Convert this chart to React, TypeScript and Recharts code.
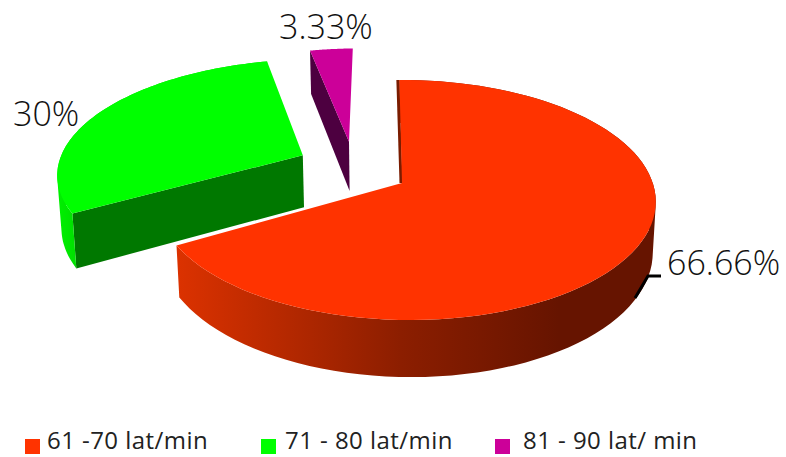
import React from 'react';
import { PieChart, Pie, Legend } from 'recharts';

const categories = ['61 -70 lat/min', '71 - 80 lat/min', '81 - 90 lat/ min'];
const shares = [66.66, 30, 3.33];
const topColors = ['#ff3300', '#00ff00', '#cc0099'];

// per-slice explode vector (in disc units), widening, extrusion and wall paint
const explode = [[0, 0], [-0.415, 0.245], [-0.222, 0.37]];
const widen = [1, 1.04, 1];
const depths = [49, 54, 52];
const radialWalls = ['#661400', '#007800', '#4d0040'];
const labelSpots = [[667, 275], [13, 126], [279, 39]];
const legendSpots = [[25, 47], [261, 285], [495, 523]];

const data = categories.map((name, i) => ({ name, value: shares[i], fill: topColors[i] }));

const TILT = 0.476;
const PERSP_V = 0.1417;
const PERSP_U = -0.015;
const SHEAR = -3;
const CONVERGE = 0.012;
const FONT = '"Open Sans", sans-serif';

type Pt = [number, number];

// disc coordinates -> screen, h = depth of extrusion below the top face
const project = (cx: number, cy: number, r: number, u: number, v: number, h = 0): Pt => {
    const w = 1 + PERSP_V * v + PERSP_U * u;
    let x = cx + (r * u + SHEAR * v) / w;
    const y = cy - (r * TILT * v) / w + h / w;
    if (h) x += (cx - x) * CONVERGE;
    return [x, y];
};

const toPath = (pts: Pt[]) => 'M' + pts.map(p => `${p[0].toFixed(1)},${p[1].toFixed(1)}`).join('L') + 'Z';

// same winding for every quad, otherwise the fold at the silhouette cancels out under nonzero fill
const oriented = (q: Pt[]) => {
    let area = 0;
    q.forEach((p, i) => {
        const n = q[(i + 1) % q.length];
        area += p[0] * n[1] - n[0] * p[1];
    });
    return area < 0 ? [...q].reverse() : q;
};

const Slice3D = (props: any) => {
    const { cx, cy, outerRadius, startAngle, endAngle, index, fill } = props;
    const [ox, oy] = explode[index];
    const h = depths[index];
    const at = (deg: number, rad: number, d = 0) => {
        const t = (deg * Math.PI) / 180;
        return project(cx, cy, outerRadius, ox + rad * widen[index] * Math.cos(t), oy + rad * Math.sin(t), d);
    };
    const steps = 90;
    const arc: number[] = [];
    for (let i = 0; i <= steps; i++) arc.push(startAngle + ((endAngle - startAngle) * i) / steps);

    const top = [at(0, 0), ...arc.map(a => at(a, 1))];
    const outer = arc
        .slice(1)
        .map((a, i) => toPath(oriented([at(arc[i], 1), at(a, 1), at(a, 1, h), at(arc[i], 1, h)])))
        .join('');
    // only the clockwise-leading cut face ever looks towards the viewer
    const cutFace = [at(0, 0), at(startAngle, 1), at(startAngle, 1, h), at(0, 0, h)];
    const startEdge = [at(startAngle, 1), at(0, 0)];

    return (
        <g>
            {index > 0 && <path d={toPath(cutFace)} fill={radialWalls[index]} />}
            {index < 2 && <path d={outer} fill={`url(#wall-${index})`} />}
            {index === 0 && (
                <line
                    x1={startEdge[0][0] - 1.5}
                    y1={startEdge[0][1]}
                    x2={startEdge[1][0] - 1}
                    y2={startEdge[1][1]}
                    stroke="#7a1c00"
                    strokeWidth={3}
                />
            )}
            <path d={toPath(top)} fill={fill} />
        </g>
    );
};

const renderLabel = (props: any) => {
    const { index, value } = props;
    const [x, y] = labelSpots[index];
    return (
        <g key={index}>
            {index === 0 && (
                <path d="M635,298L648,276L661,276" fill="none" stroke="#000" strokeWidth={3} />
            )}
            <text x={x} y={y} fontFamily={FONT} fontSize={34} fontWeight={300} fill="#111">
                {`${value}%`}
            </text>
        </g>
    );
};

const renderLegend = ({ payload }: any) => (
    <div style={{ position: 'relative', height: 26 }}>
        {(payload || []).map((item: any, i: number) => (
            <React.Fragment key={item.value}>
                <span
                    style={{
                        position: 'absolute',
                        left: legendSpots[i][0],
                        top: 12,
                        width: 15,
                        height: 15,
                        background: topColors[i],
                    }}
                />
                <span
                    style={{
                        position: 'absolute',
                        left: legendSpots[i][1],
                        top: 0,
                        fontFamily: FONT,
                        fontSize: 24,
                        letterSpacing: '0.45px',
                        lineHeight: '26px',
                        color: '#222',
                        whiteSpace: 'pre',
                    }}
                >
                    {item.value}
                </span>
            </React.Fragment>
        ))}
    </div>
);

export default function App() {
    return (
        <div style={{ position: 'absolute', left: 0, top: 0 }}>
            <PieChart width={786} height={457} margin={{ top: 0, right: 0, bottom: 0, left: 0 }}>
                <defs>
                    <linearGradient id="wall-0" gradientUnits="userSpaceOnUse" x1={176} y1={0} x2={655} y2={0}>
                        <stop offset="0" stopColor="#dc3200" />
                        <stop offset="0.47" stopColor="#8c1e00" />
                        <stop offset="0.8" stopColor="#661400" />
                        <stop offset="1" stopColor="#661400" />
                    </linearGradient>
                    <linearGradient id="wall-1" gradientUnits="userSpaceOnUse" x1={58} y1={0} x2={80} y2={0}>
                        <stop offset="0" stopColor="#00f000" />
                        <stop offset="1" stopColor="#00dc00" />
                    </linearGradient>
                </defs>
                <Pie
                    data={data}
                    dataKey="value"
                    nameKey="name"
                    cx={402}
                    cy={183}
                    innerRadius={0}
                    outerRadius={247}
                    startAngle={90}
                    endAngle={-270}
                    stroke="none"
                    shape={Slice3D}
                    label={renderLabel}
                    labelLine={false}
                    isAnimationActive={false}
                />
                <Legend content={renderLegend} wrapperStyle={{ left: 0, top: 427, width: 786 }} />
            </PieChart>
        </div>
    );
}
